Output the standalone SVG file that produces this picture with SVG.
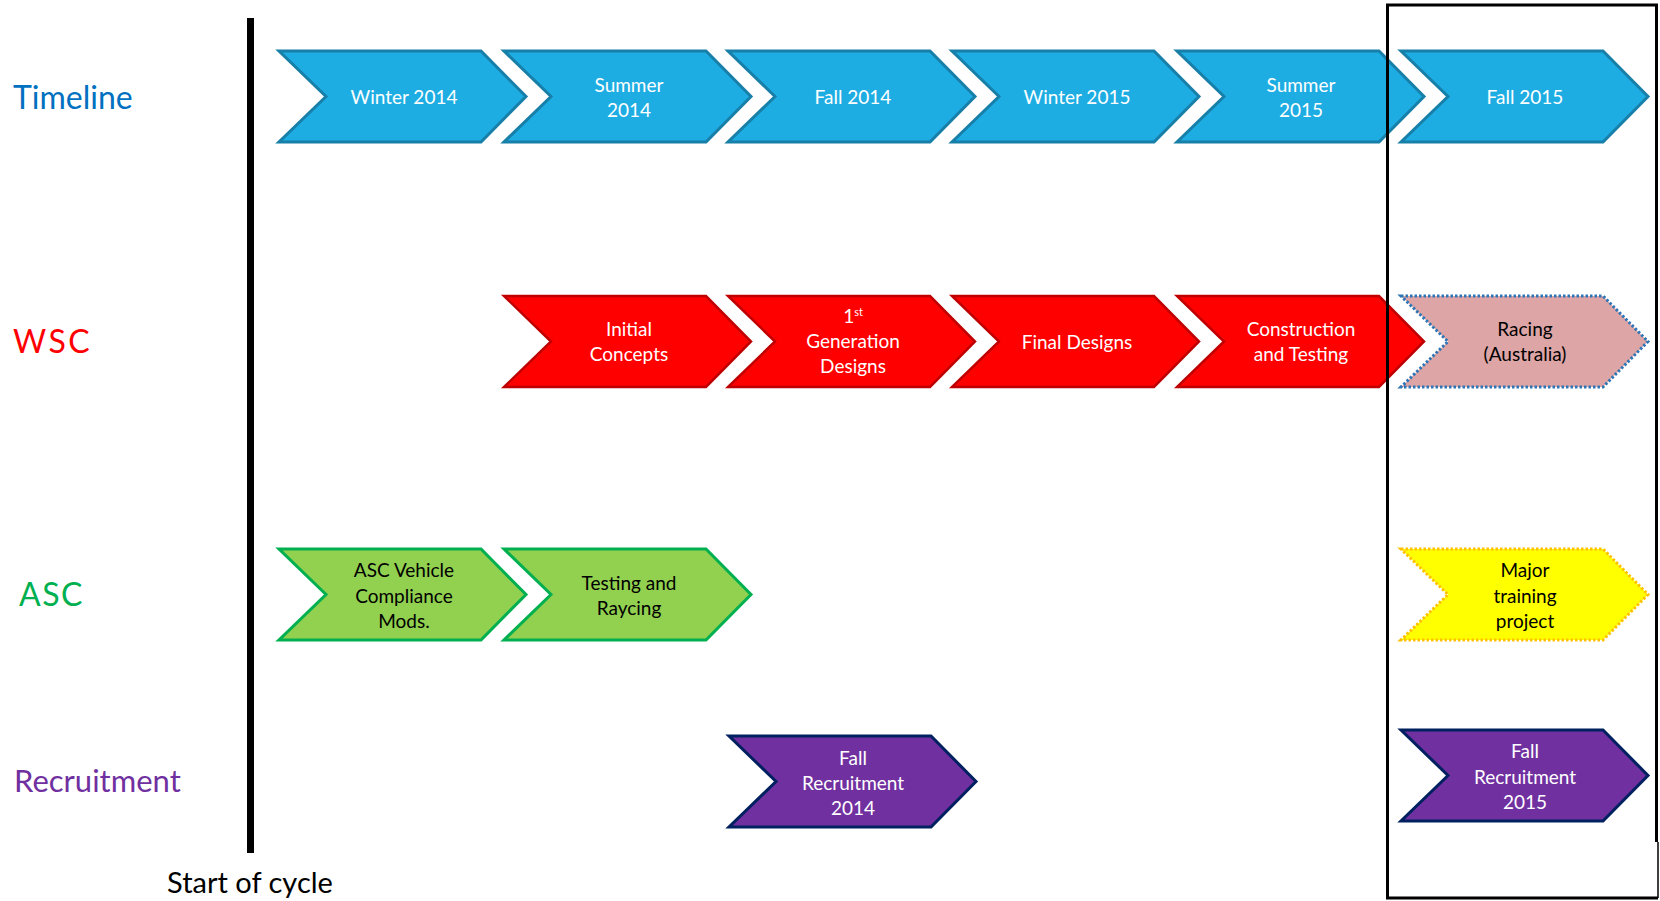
<svg xmlns="http://www.w3.org/2000/svg" xmlns:xlink="http://www.w3.org/1999/xlink" width="1660" height="901" viewBox="0 0 1660 901">
  <style>
    .lbl { font-family: Lato, "Open Sans", "DejaVu Sans", sans-serif; font-size: 32px; }
    .t { font-family: Lato, "Open Sans", "DejaVu Sans", sans-serif; font-size: 19px; text-anchor: middle; }
    .w { fill: #ffffff; }
    .k { fill: #000000; }
    .blue { fill: #1eade3; stroke: #177fa8; stroke-width: 3; stroke-linejoin: miter; }
    .red { fill: #ff0000; stroke: #c00000; stroke-width: 2.5; }
    .green { fill: #92d050; stroke: #00b050; stroke-width: 3; }
    .purple { fill: #7030a0; stroke: #002060; stroke-width: 3; }
    .pink { fill: #dda5a5; stroke: #2e75b6; stroke-width: 3; stroke-dasharray: 2.5 2; }
    .yellow { fill: #ffff00; stroke: #ffc000; stroke-width: 3; stroke-dasharray: 2.5 2; }
  </style>
  <defs>
    <!-- chevron shape: notched left edge, pointed right edge -->
    <path id="chev" d="M0,0 H202 L247,45.5 L202,91 H0 L47,45.5 Z"/>
  </defs>
  <rect width="1660" height="901" fill="#ffffff"/>

  <!-- row labels -->
  <g id="row-labels">
    <text class="lbl" x="13" y="109" fill="#0070c0">Timeline</text>
    <text class="lbl" x="13" y="353" fill="#ff0000" letter-spacing="2.5">WSC</text>
    <text class="lbl" x="19" y="606" fill="#00b050" letter-spacing="1.5">ASC</text>
    <text class="lbl" x="14" y="792" fill="#7030a0" style="font-size:31px">Recruitment</text>
  </g>

  <!-- start-of-cycle marker -->
  <g id="start-line">
    <line x1="250.5" y1="18" x2="250.5" y2="853" stroke="#000000" stroke-width="7"/>
    <text x="250" y="893" font-family="Lato, 'Open Sans', 'DejaVu Sans', sans-serif" font-size="29" text-anchor="middle" fill="#000000">Start of cycle</text>
  </g>

  <!-- Timeline row -->
  <g id="tl-winter-2014">
    <use xlink:href="#chev" x="279" y="51" class="blue"/>
    <text class="t w" x="404" y="104">Winter 2014</text>
  </g>
  <g id="tl-summer-2014">
    <use xlink:href="#chev" x="504" y="51" class="blue"/>
    <text class="t w" x="629" y="92">Summer</text>
    <text class="t w" x="629" y="117">2014</text>
  </g>
  <g id="tl-fall-2014">
    <use xlink:href="#chev" x="728" y="51" class="blue"/>
    <text class="t w" x="853" y="104">Fall 2014</text>
  </g>
  <g id="tl-winter-2015">
    <use xlink:href="#chev" x="952" y="51" class="blue"/>
    <text class="t w" x="1077" y="104">Winter 2015</text>
  </g>
  <g id="tl-summer-2015">
    <use xlink:href="#chev" x="1177" y="51" class="blue"/>
    <text class="t w" x="1301" y="92">Summer</text>
    <text class="t w" x="1301" y="117">2015</text>
  </g>
  <g id="tl-fall-2015">
    <use xlink:href="#chev" x="1401" y="51" class="blue"/>
    <text class="t w" x="1525" y="104">Fall 2015</text>
  </g>

  <!-- WSC row -->
  <g id="wsc-initial-concepts">
    <use xlink:href="#chev" x="504" y="296" class="red"/>
    <text class="t w" x="629" y="336">Initial</text>
    <text class="t w" x="629" y="361">Concepts</text>
  </g>
  <g id="wsc-first-gen">
    <use xlink:href="#chev" x="728" y="296" class="red"/>
    <text class="t w" x="853" y="323">1<tspan font-size="11" dy="-7">st</tspan></text>
    <text class="t w" x="853" y="348">Generation</text>
    <text class="t w" x="853" y="373">Designs</text>
  </g>
  <g id="wsc-final-designs">
    <use xlink:href="#chev" x="952" y="296" class="red"/>
    <text class="t w" x="1077" y="349">Final Designs</text>
  </g>
  <g id="wsc-construction">
    <use xlink:href="#chev" x="1177" y="296" class="red"/>
    <text class="t w" x="1301" y="336">Construction</text>
    <text class="t w" x="1301" y="361">and Testing</text>
  </g>
  <g id="wsc-racing">
    <use xlink:href="#chev" x="1401" y="296" class="pink"/>
    <text class="t k" x="1525" y="336">Racing</text>
    <text class="t k" x="1525" y="361">(Australia)</text>
  </g>

  <!-- ASC row -->
  <g id="asc-compliance">
    <use xlink:href="#chev" x="279" y="549" class="green"/>
    <text class="t k" x="404" y="577">ASC Vehicle</text>
    <text class="t k" x="404" y="603">Compliance</text>
    <text class="t k" x="404" y="628">Mods.</text>
  </g>
  <g id="asc-testing">
    <use xlink:href="#chev" x="504" y="549" class="green"/>
    <text class="t k" x="629" y="590">Testing and</text>
    <text class="t k" x="629" y="615">Raycing</text>
  </g>
  <g id="asc-training">
    <use xlink:href="#chev" x="1401" y="549" class="yellow"/>
    <text class="t k" x="1525" y="577">Major</text>
    <text class="t k" x="1525" y="603">training</text>
    <text class="t k" x="1525" y="628">project</text>
  </g>

  <!-- Recruitment row -->
  <g id="rec-fall-2014">
    <use xlink:href="#chev" x="729" y="736" class="purple"/>
    <text class="t w" x="853" y="765">Fall</text>
    <text class="t w" x="853" y="790">Recruitment</text>
    <text class="t w" x="853" y="815">2014</text>
  </g>
  <g id="rec-fall-2015">
    <use xlink:href="#chev" x="1401" y="730" class="purple"/>
    <text class="t w" x="1525" y="758">Fall</text>
    <text class="t w" x="1525" y="784">Recruitment</text>
    <text class="t w" x="1525" y="809">2015</text>
  </g>

  <!-- highlight frame around the current term -->
  <g id="frame" fill="none" stroke="#000000">
    <path d="M1656.5,842 V5 H1387.5 V898 H1658" stroke-width="3"/>
    <line x1="1658" y1="842" x2="1658" y2="898" stroke-width="1.5"/>
  </g>
</svg>
